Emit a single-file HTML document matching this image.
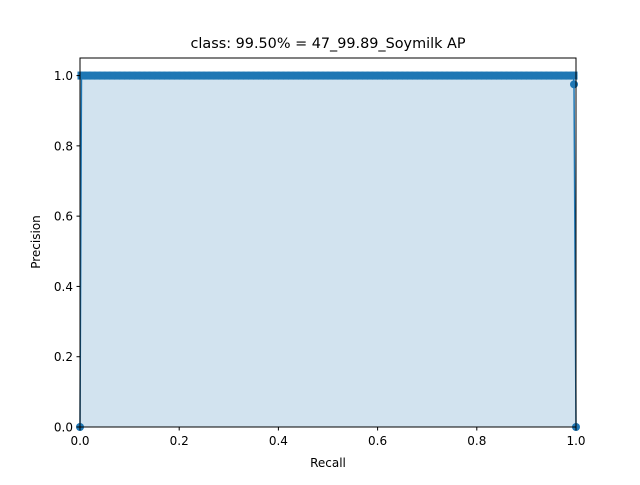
<!DOCTYPE html>
<html><head><meta charset="utf-8"><style>
body{margin:0;background:#fff;}
svg text{font-family:"DejaVu Sans","Liberation Sans",sans-serif;fill:#000;}
</style></head><body>
<svg width="640" height="480" viewBox="0 0 640 480">
<rect width="640" height="480" fill="#fff"/>
<text x="328" y="48" font-size="14.4" text-anchor="middle">class: 99.50% = 47_99.89_Soymilk AP</text>
<g id="plot"></g>
<rect x="80" y="58" width="496" height="369" fill="none" stroke="#000" stroke-width="1"/>
<g id="ticks"></g>
<text x="328" y="467" font-size="12" text-anchor="middle">Recall</text>
<text transform="translate(40,242) rotate(-90)" font-size="12" text-anchor="middle">Precision</text>
</svg>
<script>
const recall=[0,0.003,0.01,0.02,0.03,0.04,0.05,0.06,0.07,0.08,0.09,0.1,0.11,0.12,0.13,0.14,0.15,0.16,0.17,0.18,0.19,0.2,0.21,0.22,0.23,0.24,0.25,0.26,0.27,0.28,0.29,0.3,0.31,0.32,0.33,0.34,0.35,0.36,0.37,0.38,0.39,0.4,0.41,0.42,0.43,0.44,0.45,0.46,0.47,0.48,0.49,0.5,0.51,0.52,0.53,0.54,0.55,0.56,0.57,0.58,0.59,0.6,0.61,0.62,0.63,0.64,0.65,0.66,0.67,0.68,0.69,0.7,0.71,0.72,0.73,0.74,0.75,0.76,0.77,0.78,0.79,0.8,0.81,0.82,0.83,0.84,0.85,0.86,0.87,0.88,0.89,0.9,0.91,0.92,0.93,0.94,0.95,0.96,0.97,0.98,0.99,0.995,0.996,1.0];
const precision=[0,1,1,1,1,1,1,1,1,1,1,1,1,1,1,1,1,1,1,1,1,1,1,1,1,1,1,1,1,1,1,1,1,1,1,1,1,1,1,1,1,1,1,1,1,1,1,1,1,1,1,1,1,1,1,1,1,1,1,1,1,1,1,1,1,1,1,1,1,1,1,1,1,1,1,1,1,1,1,1,1,1,1,1,1,1,1,1,1,1,1,1,1,1,1,1,1,1,1,1,1,1,0.975,0];
const xTicks=[0,0.2,0.4,0.6,0.8,1.0];
const yTicks=[0,0.2,0.4,0.6,0.8,1.0];
const xs=v=>80+v*496, ys=v=>427-v*(369/1.05);
const NS="http://www.w3.org/2000/svg";
const plot=document.getElementById('plot'), tk=document.getElementById('ticks');
let d='M'+xs(recall[0])+','+ys(0);
recall.forEach((r,i)=>d+=' L'+xs(r)+','+ys(precision[i]));
d+=' L'+xs(recall[recall.length-1])+','+ys(0)+' Z';
const area=document.createElementNS(NS,'path');area.setAttribute('d',d);area.setAttribute('fill','#d2e3ef');


plot.appendChild(area);
const line=document.createElementNS(NS,'polyline');
line.setAttribute('points',recall.map((r,i)=>xs(r)+','+ys(precision[i])).join(' '));
line.setAttribute('fill','none');line.setAttribute('stroke','#1f77b4');line.setAttribute('stroke-width','1.5');


plot.appendChild(line);
const band=document.createElementNS(NS,'rect');
band.setAttribute('x',xs(0.003)-4);band.setAttribute('y',ys(1)-4);band.setAttribute('width',xs(0.995)-xs(0.003)+8);band.setAttribute('height',8);band.setAttribute('fill','#1f77b4');


plot.appendChild(band);
recall.forEach((r,i)=>{const c=document.createElementNS(NS,'circle');c.setAttribute('cx',xs(r));c.setAttribute('cy',ys(precision[i]));c.setAttribute('r',4);c.setAttribute('fill','#1f77b4');


plot.appendChild(c);});
xTicks.forEach(v=>{const l=document.createElementNS(NS,'line');l.setAttribute('x1',xs(v));l.setAttribute('x2',xs(v));l.setAttribute('y1',427);l.setAttribute('y2',430.5);l.setAttribute('stroke','#000');tk.appendChild(l);
const t=document.createElementNS(NS,'text');t.setAttribute('x',xs(v));t.setAttribute('y',445);t.setAttribute('font-size','12');t.setAttribute('text-anchor','middle');t.textContent=v.toFixed(1);


tk.appendChild(t);});
yTicks.forEach(v=>{const l=document.createElementNS(NS,'line');l.setAttribute('x1',76.5);l.setAttribute('x2',80);l.setAttribute('y1',ys(v));l.setAttribute('y2',ys(v));l.setAttribute('stroke','#000');tk.appendChild(l);
const t=document.createElementNS(NS,'text');t.setAttribute('x',73);t.setAttribute('y',ys(v)+4.5);t.setAttribute('font-size','12');t.setAttribute('text-anchor','end');t.textContent=v.toFixed(1);


tk.appendChild(t);});
</script>
</body></html>
